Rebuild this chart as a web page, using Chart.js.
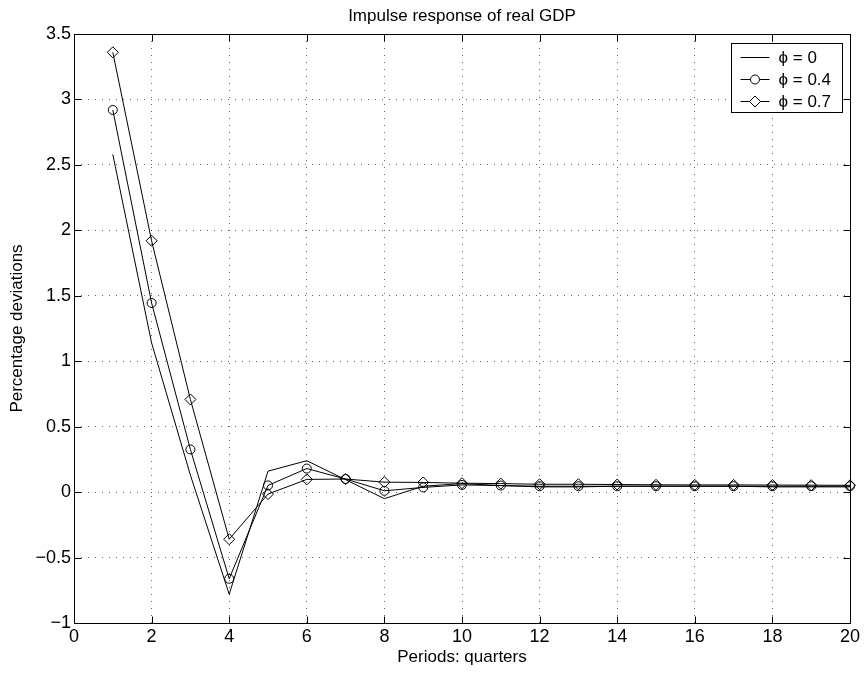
<!DOCTYPE html>
<html lang="en">
<head>
<meta charset="UTF-8">
<title>Impulse response of real GDP</title>
<script src="https://cdn.jsdelivr.net/npm/chart.js"></script>
<style>
  html, body { margin: 0; padding: 0; background: #fff; }
  #wrap { width: 866px; height: 673px; }
</style>
</head>
<body>
<div id="wrap"><canvas id="irf-chart"></canvas></div>
<script>
  // quarters after the shock
  const periods = [1, 2, 3, 4, 5, 6, 7, 8, 9, 10, 11, 12, 13, 14, 15, 16, 17, 18, 19, 20];

  // percentage deviations of real GDP
  const phi0  = [2.58, 1.14, 0.13, -0.78, 0.16, 0.24, 0.095, -0.05, 0.045, 0.065,
                 0.05, 0.04, 0.04, 0.045, 0.045, 0.045, 0.045, 0.04, 0.04, 0.04];
  const phi04 = [2.92, 1.445, 0.326, -0.662, 0.051, 0.18, 0.10, 0.01, 0.036, 0.055,
                 0.05, 0.045, 0.045, 0.045, 0.045, 0.045, 0.045, 0.045, 0.045, 0.045];
  const phi07 = [3.36, 1.92, 0.708, -0.36, -0.015, 0.097, 0.10, 0.076, 0.074, 0.068,
                 0.065, 0.06, 0.06, 0.058, 0.056, 0.055, 0.055, 0.054, 0.053, 0.052];

  const seriesLabels = ['\u03D5 = 0', '\u03D5 = 0.4', '\u03D5 = 0.7'];
  const xTicks = [0, 2, 4, 6, 8, 10, 12, 14, 16, 18, 20];
  const yTicks = [-1, -0.5, 0, 0.5, 1, 1.5, 2, 2.5, 3, 3.5];

  const FONT = "'Liberation Sans', Arial, Helvetica, sans-serif";
  const TICK_LEN = 7;

  function toPoints(values) {
    return periods.map((p, i) => ({ x: p, y: values[i] }));
  }

  // MATLAB-like box with inward ticks, plus the boxed legend in the corner
  const matlabAxes = {
    id: 'matlabAxes',
    afterDatasetsDraw(chart) {
      const { ctx, chartArea: a, scales: { x, y } } = chart;
      const L = Math.round(a.left) + 0.5, R = Math.round(a.right) + 0.5;
      const T = Math.round(a.top) + 0.5, B = Math.round(a.bottom) + 0.5;
      ctx.save();
      ctx.strokeStyle = '#000';
      ctx.lineWidth = 1;
      ctx.strokeRect(L, T, R - L, B - T);
      ctx.beginPath();
      x.ticks.forEach(t => {
        const px = Math.round(x.getPixelForValue(t.value)) + 0.5;
        ctx.moveTo(px, B); ctx.lineTo(px, B - TICK_LEN);
        ctx.moveTo(px, T); ctx.lineTo(px, T + TICK_LEN);
      });
      y.ticks.forEach(t => {
        const py = Math.round(y.getPixelForValue(t.value)) + 0.5;
        ctx.moveTo(L, py); ctx.lineTo(L + TICK_LEN, py);
        ctx.moveTo(R, py); ctx.lineTo(R - TICK_LEN, py);
      });
      ctx.stroke();

      // legend
      const w = 111, h = 69;
      const bx = Math.round(a.right - 8 - w) + 0.5, by = Math.round(a.top + 9) + 0.5;
      ctx.fillStyle = '#fff';
      ctx.fillRect(bx, by, w, h);
      ctx.strokeRect(bx, by, w, h);
      ctx.font = '17px ' + FONT;
      ctx.textAlign = 'left';
      ctx.textBaseline = 'middle';
      chart.data.datasets.forEach((ds, i) => {
        const ry = Math.round(by + 13.5 + i * 22) + 0.5;
        const x1 = bx + 9, x2 = bx + 38, cx = (x1 + x2) / 2;
        ctx.beginPath();
        ctx.moveTo(x1, ry); ctx.lineTo(x2, ry);
        ctx.stroke();
        if (ds.pointRadius > 0) {
          ctx.beginPath();
          const r = ds.pointRadius;
          if (ds.pointStyle === 'rectRot') {
            ctx.moveTo(cx - r, ry); ctx.lineTo(cx, ry - r);
            ctx.lineTo(cx + r, ry); ctx.lineTo(cx, ry + r);
            ctx.closePath();
          } else {
            ctx.arc(cx, ry, r, 0, Math.PI * 2);
          }
          ctx.fillStyle = '#fff';
          ctx.fill();
          ctx.stroke();
        }
        ctx.fillStyle = '#000';
        ctx.fillText(ds.label, bx + 47, ry + 1);
      });
      ctx.restore();
    }
  };

  const lineStyle = {
    borderColor: '#000',
    borderWidth: 1,
    pointBorderColor: '#000',
    pointBackgroundColor: 'rgba(0,0,0,0)',
    pointBorderWidth: 1,
    tension: 0,
    fill: false,
    clip: false
  };

  new Chart(document.getElementById('irf-chart'), {
    type: 'line',
    data: {
      datasets: [
        Object.assign({ label: seriesLabels[0], data: toPoints(phi0), pointRadius: 0 }, lineStyle),
        Object.assign({ label: seriesLabels[1], data: toPoints(phi04), pointStyle: 'circle', pointRadius: 4.5 }, lineStyle),
        Object.assign({ label: seriesLabels[2], data: toPoints(phi07), pointStyle: 'rectRot', pointRadius: 5.5 }, lineStyle)
      ]
    },
    options: {
      responsive: true,
      maintainAspectRatio: false,
      animation: false,
      layout: { padding: { top: 0, right: 16, bottom: 0, left: 0 } },
      plugins: {
        legend: { display: false },
        tooltip: { enabled: false },
        title: {
          display: true,
          text: 'Impulse response of real GDP',
          fullSize: false,
          color: '#000',
          font: { family: FONT, size: 17, weight: 'normal', lineHeight: 20 / 17 },
          padding: { top: 6, bottom: 8 }
        }
      },
      scales: {
        x: {
          type: 'linear',
          min: 0,
          max: 20,
          afterBuildTicks: s => { s.ticks = xTicks.map(v => ({ value: v })); },
          afterFit: s => { s.height = 50; },
          grid: { color: 'rgba(0,0,0,0.6)', lineWidth: 1, drawTicks: false },
          border: { display: false, dash: [1, 6] },
          ticks: { color: '#000', padding: 3, maxRotation: 0, font: { family: FONT, size: 18 } },
          title: {
            display: true,
            text: 'Periods: quarters',
            color: '#000',
            font: { family: FONT, size: 17 },
            padding: { top: 0, bottom: 5 }
          }
        },
        y: {
          type: 'linear',
          min: -1,
          max: 3.5,
          afterBuildTicks: s => { s.ticks = yTicks.map(v => ({ value: v })); },
          afterFit: s => { s.width = 74; },
          grid: { color: 'rgba(0,0,0,0.6)', lineWidth: 1, drawTicks: false },
          border: { display: false, dash: [1, 6] },
          ticks: {
            color: '#000',
            padding: 3,
            font: { family: FONT, size: 18 },
            callback: v => (v < 0 ? '\u2212' + Math.abs(v) : String(v))
          },
          title: {
            display: true,
            text: 'Percentage deviations',
            color: '#000',
            font: { family: FONT, size: 17 },
            padding: { top: 7, bottom: 0 }
          }
        }
      }
    },
    plugins: [matlabAxes]
  });
</script>
</body>
</html>
